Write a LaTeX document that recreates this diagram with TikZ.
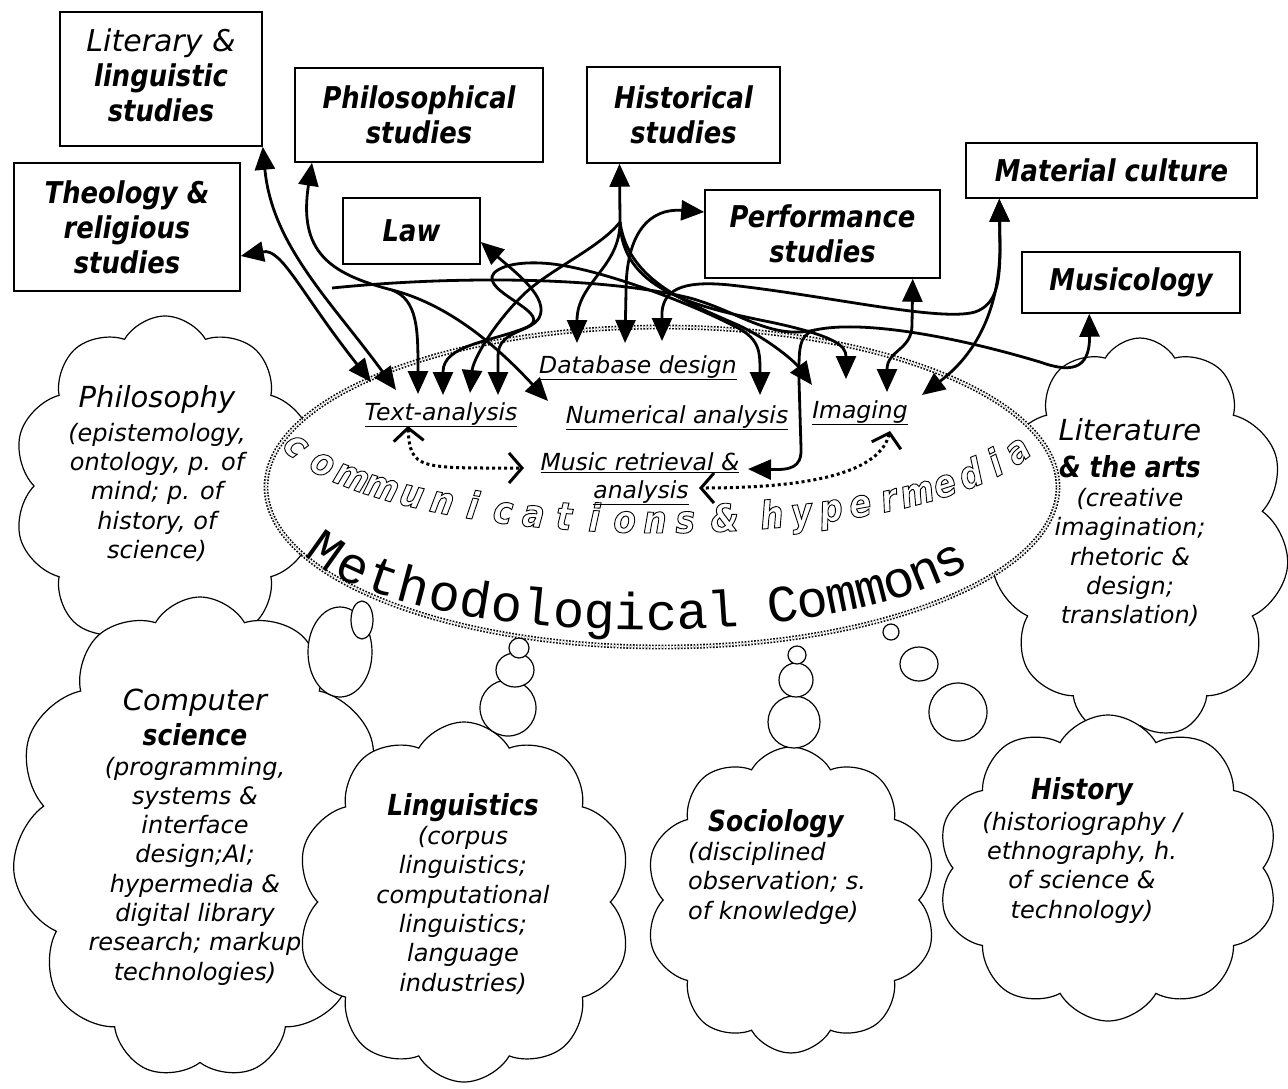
\documentclass[tikz,border=0pt]{standalone}
\usepackage{fontspec}
\setmainfont{DejaVu Sans}[BoldFeatures={FakeStretch=0.86},BoldItalicFeatures={FakeStretch=0.86}]
\newfontfamily\monofont{Liberation Mono}
\usetikzlibrary{arrows.meta,shapes.geometric,shapes.symbols}
\tikzset{
	field/.style={draw,line width=1.5pt,fill=white,align=center,inner sep=0pt,font=\fontsize{30}{35}\selectfont\itshape\bfseries},
	puff/.style={cloud,cloud puffs=#1,cloud puff arc=120,cloud ignores aspect,draw,line width=1.2pt,fill=white},
	bubble/.style={ellipse,draw,line width=1.2pt,fill=white,inner sep=0pt},
	idea/.style={inner sep=0pt,font=\fontsize{24}{29.3}\selectfont\itshape},
	method/.style={inner sep=0pt,font=\fontsize{23.5}{28}\selectfont\itshape},
	commons/.style={ellipse,draw,fill=white,line width=1.6pt,double,double distance=1.6pt,dash pattern=on 1.6pt off 1.6pt,inner sep=0pt},
	letter/.style={inner sep=0pt,anchor=base},
	twoway/.style={line width=2.8pt,{Triangle[length=23pt,width=20pt]}-{Triangle[length=23pt,width=20pt]}},
	oneway/.style={line width=2.8pt,-{Triangle[length=23pt,width=20pt]}},
	dotlink/.style={line width=3pt,dash pattern=on 3pt off 3pt,{Straight Barb[length=13pt,width=30pt,line width=3pt]}-{Straight Barb[length=13pt,width=30pt,line width=3pt]}}
}
\newcommand{\cloudhead}{\fontsize{29}{34}\selectfont}
\newcommand{\commonsfont}{\monofont\fontsize{52}{52}\selectfont}
\newcommand{\mediafont}{\fontsize{38}{38}\selectfont\itshape\bfseries\special{pdf:literal direct 1 Tr 0.9 w}}

\begin{document}
\begin{tikzpicture}[x=1pt,y=-1pt]
	\useasboundingbox (0,0) rectangle (1288,1088);
	\node[puff=10,minimum width=304pt,minimum height=340pt] (philo) at (165,486) {};
	\node[idea,align=center,anchor=north] (philotext) at (157,385) {{\cloudhead Philosophy}\\[4.7pt](epistemology,\\ontology, p. of\\mind; p. of\\history, of\\science)};
	\node[puff=11,minimum width=298pt,minimum height=400pt] (litart) at (1140,538) {};
	\node[idea,align=center,anchor=north] (litarttext) at (1130,418) {{\cloudhead Literature}\\[7.7pt]{\cloudhead\bfseries \& the arts}\\(creative\\imagination;\\rhetoric \&\\design;\\translation)};
	\node[commons,minimum width=792pt,minimum height=320pt] (mc) at (662,487) {};
	\node[puff=11,minimum width=376pt,minimum height=482pt] (cs) at (200,838) {};
	\node[idea,align=center,anchor=north] (cstext) at (195,689) {{\cloudhead Computer}\\[5.7pt]{\cloudhead\bfseries science}\\(programming,\\systems \&\\interface\\design;AI;\\hypermedia \&\\digital library\\research; markup\\technologies)};
	\node[puff=10,minimum width=336pt,minimum height=360pt] (ling) at (464,902) {};
	\node[idea,align=center,anchor=north] (lingtext) at (463,793) {{\cloudhead\bfseries Linguistics}\\(corpus\\linguistics;\\computational\\linguistics;\\language\\industries)};
	\node[puff=10,minimum width=292pt,minimum height=306pt] (soc) at (791,900) {};
	\node[idea,align=left,anchor=north west] (soctext) at (688,809) {\hspace*{20pt}{\cloudhead\bfseries Sociology}\\(disciplined\\observation; s.\\of knowledge)};
	\node[puff=10,minimum width=342pt,minimum height=306pt] (histy) at (1108,868) {};
	\node[idea,align=center,anchor=north] (histytext) at (1082,777) {{\cloudhead\bfseries History}\\[1.7pt](historiography /\\ethnography, h.\\of science \&\\technology)};
	\node[bubble,minimum width=64pt,minimum height=90pt] (cb2) at (340,652) {};
	\node[bubble,minimum width=22pt,minimum height=38pt] (cb1) at (362,620) {};
	\node[bubble,minimum width=56pt,minimum height=56pt] (lb3) at (508,708) {};
	\node[bubble,minimum width=38pt,minimum height=34pt] (lb2) at (515,670) {};
	\node[bubble,minimum width=20pt,minimum height=20pt] (lb1) at (519,648) {};
	\node[bubble,minimum width=52pt,minimum height=52pt] (sb3) at (794,722) {};
	\node[bubble,minimum width=34pt,minimum height=34pt] (sb2) at (796,680) {};
	\node[bubble,minimum width=18pt,minimum height=18pt] (sb1) at (797,655) {};
	\node[bubble,minimum width=58pt,minimum height=58pt] (hb3) at (958,712) {};
	\node[bubble,minimum width=38pt,minimum height=34pt] (hb2) at (919,664) {};
	\node[bubble,minimum width=16pt,minimum height=16pt] (hb1) at (891,632) {};
	\gdef\arcang{157}
	\foreach \ch [count=\k] in {M,e,t,h,o,d,o,l,o,g,i,c,a,l,{},C,o,m,m,o,n,s} {
		\pgfmathsetmacro\px{645+357*cos(\arcang)}
		\pgfmathsetmacro\py{522+108*sin(\arcang)}
		\pgfmathsetmacro\rot{atan2(108*cos(\arcang),357*sin(\arcang))}
		\node[letter,rotate=\rot,font=\commonsfont] (mc\k) at (\px,\py) {\ch};
		\pgfmathsetmacro\nxt{\arcang-31.2/(100*sqrt((3.57*sin(\arcang))^2+(1.08*cos(\arcang))^2))*57.2958}
		\xdef\arcang{\nxt}
	}
	\gdef\arcang{162.5}
	\foreach \ch/\adv [count=\k] in {c/30.5,o/30.5,m/30.5,m/30.5,u/30.5,n/30.5,i/30.5,c/30.5,a/30.5,t/30.5,i/30.5,o/30.5,n/30.5,s/20,{}/20,\&/24,{}/24,h/30.5,y/30.5,p/30.5,e/30.5,r/30.5,m/30.5,e/30.5,d/30.5,i/30.5,a/30.5} {
		\pgfmathsetmacro\px{660+390*cos(\arcang)}
		\pgfmathsetmacro\py{420+113*sin(\arcang)}
		\pgfmathsetmacro\rot{atan2(113*cos(\arcang),390*sin(\arcang))}
		\node[letter,rotate=\rot,font=\mediafont] (ch\k) at (\px,\py) {\ch};
		\pgfmathsetmacro\nxt{\arcang-\adv/(100*sqrt((3.9*sin(\arcang))^2+(1.13*cos(\arcang))^2))*57.2958}
		\xdef\arcang{\nxt}
	}
	\node[method,anchor=base] (dbd) at (638,373) {\underline{Database design}};
	\node[method,anchor=base] (ta) at (441,420) {\underline{Text-analysis}};
	\node[method,anchor=base] (na) at (677,423) {\underline{Numerical analysis}};
	\node[method,anchor=base] (img) at (860,418) {\underline{Imaging}};
	\node[method,anchor=base] (mr) at (640,470) {\underline{Music retrieval \&}};
	\node[method,anchor=base] (mra) at (641,498) {\underline{analysis}};
	\node[field,minimum width=202pt,minimum height=134pt,text depth=7pt] (lit) at (161,79) {{\mdseries Literary \&}\\linguistic\\studies};
	\node[field,minimum width=248pt,minimum height=94pt] (phil) at (419,115) {Philosophical\\studies};
	\node[field,minimum width=193pt,minimum height=96pt] (hist) at (683.5,115) {Historical\\studies};
	\node[field,minimum width=226pt,minimum height=128pt] (theo) at (127,227) {Theology \&\\religious\\studies};
	\node[field,minimum width=137pt,minimum height=66pt] (law) at (411.5,231) {Law};
	\node[field,minimum width=235pt,minimum height=88pt] (perf) at (822.5,234) {Performance\\studies};
	\node[field,minimum width=291pt,minimum height=55pt] (mat) at (1111.5,170.5) {Material culture};
	\node[field,minimum width=218pt,minimum height=61pt] (mus) at (1131,282.5) {Musicology};
	\coordinate (ta1) at (371,382);
	\coordinate (ta2) at (396,390);
	\coordinate (ta3) at (418,394);
	\coordinate (ta4) at (443,395);
	\coordinate (ta5) at (470,393);
	\coordinate (ta6) at (498,395);
	\coordinate (db1) at (577,343);
	\coordinate (db2) at (625,343);
	\coordinate (db3) at (662,341);
	\coordinate (na1) at (548,401);
	\coordinate (na2) at (760,395);
	\coordinate (im1) at (812,385);
	\coordinate (im2) at (846,379);
	\coordinate (im3) at (887,392);
	\coordinate (im4) at (922,395);
	\coordinate (mr1) at (748,469);
	\coordinate (tb) at (408,426);
	\coordinate (ml) at (524,468);
	\coordinate (ib) at (890,431);
	\coordinate (mrr) at (699,488);
	\coordinate (pbr) at (392,290);
	\coordinate (hst) at (620,222);
	\coordinate (loose) at (332,288);
	\coordinate (mjn) at (815,330);
	\draw[twoway] ([yshift=-29pt]theo.east) .. controls (282,248) and (300,292) .. (ta1);
	\draw[twoway] (lit.south east) .. controls (272,245) and (330,300) .. (ta2);
	\draw[twoway] ([xshift=-107pt]phil.south) .. controls (298,252) and (330,274) .. (pbr) .. controls (418,300) and (418,330) .. (ta3);
	\draw[oneway] (pbr) .. controls (455,306) and (505,355) .. (na1);
	\draw[twoway] (db3) -- (662,312) .. controls (664,286) and (690,281) .. (730,285) .. controls (830,296) and (940,322) .. (975,312) .. controls (998,304) and (1000,280) .. (1000,245) -- ([xshift=34pt]mat.south west);
	\draw[twoway] ([yshift=-11pt]law.east) .. controls (515,272) and (550,298) .. (539,318) .. controls (530,333) and (498,330) .. (498,356) -- (ta6);
	\draw[twoway] (ta4) -- (443,372) .. controls (443,345) and (490,342) .. (525,328) .. controls (560,314) and (478,292) .. (494,273) .. controls (505,262) and (535,261) .. (560,265) .. controls (610,273) and (690,303) .. (738,328) .. controls (760,340) and (760,352) .. (na2);
	\draw[twoway] ([xshift=-64pt]hist.south) -- (hst) .. controls (600,248) and (548,270) .. (522,296) .. controls (492,326) and (473,360) .. (ta5);
	\draw[oneway] (hst) .. controls (620,268) and (577,282) .. (db1);
	\draw[oneway] (hst) .. controls (622,288) and (690,306) .. (770,322) .. controls (836,336) and (846,346) .. (im2);
	\draw[oneway] (hst) .. controls (628,278) and (680,300) .. (738,325) .. controls (770,340) and (795,362) .. (im1);
	\draw[twoway] ([yshift=22pt]perf.west) .. controls (650,208) and (626,232) .. (626,292) -- (db2);
	\draw[twoway] ([xshift=-28pt]perf.south east) -- (912,325) .. controls (912,350) and (887,350) .. (im3);
	\draw[twoway] ([xshift=34pt]mat.south west) -- (1000,250) .. controls (998,330) and (960,366) .. (im4);
	\draw[twoway] ([xshift=68pt]mus.south west) .. controls (1090,372) and (1068,372) .. (1040,362) .. controls (950,335) and (860,320) .. (mjn) .. controls (798,335) and (799,350) .. (799,380) -- (801,448) .. controls (802,468) and (790,470) .. (mr1);
	\draw[line width=2.8pt] (loose) .. controls (450,276) and (600,276) .. (690,298) .. controls (740,312) and (770,340) .. (mjn);
	\draw[dotlink] (tb) .. controls (410,470) and (420,468) .. (ml);
	\draw[dotlink] (ib) .. controls (880,470) and (820,488) .. (mrr);
\end{tikzpicture}
\end{document}
